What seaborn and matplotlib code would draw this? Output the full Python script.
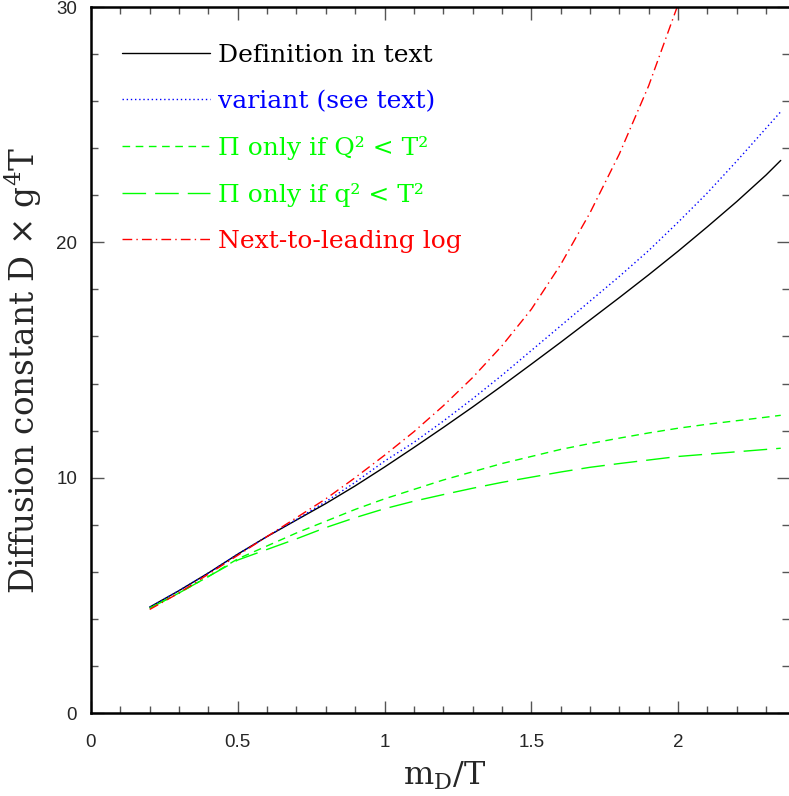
import matplotlib
matplotlib.use("Agg")
import matplotlib.pyplot as plt
import seaborn as sns
import pandas as pd
from matplotlib.ticker import MultipleLocator

# ---------------- data ----------------
x_main = [0.2, 0.3, 0.4, 0.5, 0.6, 0.7, 0.8, 0.9, 1.0, 1.1, 1.2, 1.3, 1.4, 1.5,
          1.6, 1.7, 1.8, 1.9, 2.0, 2.1, 2.2, 2.3, 2.35]
y_definition = [4.5, 5.2, 5.95, 6.75, 7.5, 8.2, 8.9, 9.65, 10.45, 11.28, 12.13, 13.0,
                13.9, 14.82, 15.75, 16.7, 17.65, 18.62, 19.62, 20.66, 21.73, 22.86, 23.48]
y_variant = [4.5, 5.2, 5.95, 6.75, 7.5, 8.22, 8.98, 9.8, 10.7, 11.5, 12.4, 13.35,
             14.35, 15.4, 16.45, 17.5, 18.55, 19.65, 20.85, 22.1, 23.45, 24.85, 25.55]
y_Qcut = [4.45, 5.1, 5.8, 6.55, 7.1, 7.65, 8.15, 8.65, 9.1, 9.5, 9.9, 10.25,
          10.6, 10.9, 11.2, 11.45, 11.68, 11.9, 12.1, 12.27, 12.42, 12.57, 12.65]
y_qcut = [4.45, 5.1, 5.8, 6.5, 6.95, 7.4, 7.88, 8.3, 8.68, 9.0, 9.28, 9.55,
          9.8, 10.02, 10.24, 10.44, 10.6, 10.75, 10.9, 11.0, 11.1, 11.2, 11.25]
x_nll = [0.2, 0.3, 0.4, 0.5, 0.6, 0.7, 0.8, 0.9, 1.0, 1.1, 1.2, 1.3, 1.4, 1.5,
         1.6, 1.7, 1.8, 1.9, 2.0]
y_nll = [4.4, 5.1, 5.9, 6.7, 7.5, 8.3, 9.1, 10.0, 10.95, 11.95, 13.05, 14.25,
         15.6, 17.15, 19.05, 21.25, 23.75, 26.65, 30.1]

labels = ["Definition in text", "variant (see text)", "\u03a0 only if Q\u00b2 < T\u00b2",
          "\u03a0 only if q\u00b2 < T\u00b2", "Next-to-leading log"]
x_ticks = [0, 0.5, 1, 1.5, 2]
x_tick_labels = ["0", "0.5", "1", "1.5", "2"]
y_ticks = [0, 10, 20, 30]
y_tick_labels = ["0", "10", "20", "30"]

# ---------------- style ----------------
sns.set_style("ticks")
plt.rcParams["font.family"] = ["DejaVu Serif", "DejaVu Sans"]
plt.rcParams["mathtext.fontset"] = "dejavuserif"

fig = plt.figure(figsize=(7.89, 7.96), dpi=100)
ax = fig.add_axes([91 / 789, 83 / 796, 698 / 789, 706 / 796])

series = [
    (x_main, y_definition, labels[0], "#000000", "-"),
    (x_main, y_variant, labels[1], "#0000ff", (0, (1.0, 2.0))),
    (x_main, y_Qcut, labels[2], "#00ff00", (0, (5.5, 4.0))),
    (x_main, y_qcut, labels[3], "#00ff00", (0, (17, 6.5))),
    (x_nll, y_nll, labels[4], "#ff0000", (0, (7, 3, 1, 3))),
]
for xs, ys, lab, col, ls in series:
    df = pd.DataFrame({"x": xs, "y": ys})
    sns.lineplot(data=df, x="x", y="y", ax=ax, color=col, linestyle=ls,
                 linewidth=1.0, label=lab, sort=True)

ax.set_xlim(0, 698 / 293.5)
ax.set_ylim(0, 30)

ax.set_xticks(x_ticks)
ax.set_xticklabels(x_tick_labels, fontfamily="Liberation Sans", fontsize=13.5)
ax.set_yticks(y_ticks)
ax.set_yticklabels(y_tick_labels, fontfamily="Liberation Sans", fontsize=13.5)
ax.xaxis.set_minor_locator(MultipleLocator(0.1))
ax.yaxis.set_minor_locator(MultipleLocator(2))

ax.tick_params(which="both", direction="in", top=True, right=True, color="#555555", width=1.0)
ax.tick_params(which="major", length=9)
ax.tick_params(which="minor", length=5)
ax.tick_params(axis="x", which="major", pad=15)
ax.tick_params(axis="y", which="major", pad=10)

for side in ["left", "bottom", "top"]:
    ax.spines[side].set_linewidth(1.8)
    ax.spines[side].set_color("black")
ax.spines["right"].set_visible(False)

ax.set_xlabel(r"m$_\mathrm{D}$/T", fontsize=23)
ax.set_ylabel(r"Diffusion constant D $\times$ g$^4$T", fontsize=23.5)
ax.xaxis.set_label_coords(0.506, -0.066)
ax.xaxis.label.set_va("top")
ax.yaxis.set_label_coords(-0.097, 0.485)
ax.yaxis.label.set_va("center")

leg = ax.legend(loc="upper left", bbox_to_anchor=(31 / 698, 1 - 37 / 706),
                frameon=False, fontsize=18, handlelength=3.5, handletextpad=0.32,
                labelspacing=0.92, borderpad=0, borderaxespad=0,
                labelcolor="linecolor")

fig.savefig("out.png", dpi=100)
